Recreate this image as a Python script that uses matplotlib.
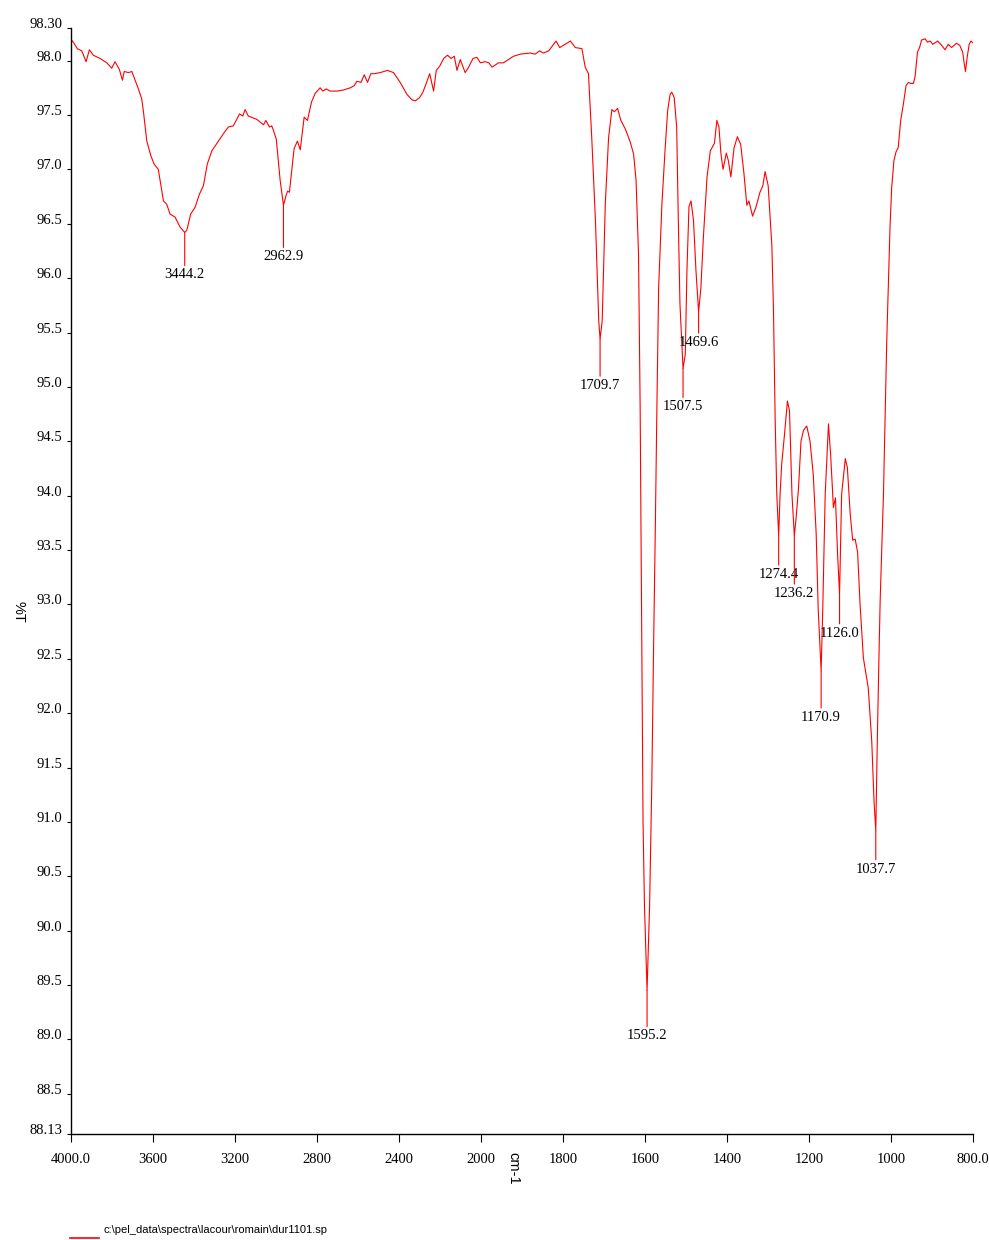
import numpy as np
import matplotlib
matplotlib.use('Agg')
import matplotlib.pyplot as plt

plt.rcParams['font.family'] = ['Liberation Serif', 'DejaVu Serif']

# spectrum (wavenumber cm-1, %T)
wavenumber = [
    4000, 3984, 3968, 3946, 3925, 3909, 3890, 3857, 3824, 3800, 3784, 3763, 3748, 3739,
    3719, 3702, 3686, 3670, 3654, 3646, 3629, 3610, 3594, 3573, 3548, 3532, 3516, 3491,
    3467, 3444.2, 3434, 3415, 3394, 3373, 3353, 3334, 3312, 3280, 3255, 3231, 3207, 3177,
    3161, 3150, 3134, 3093, 3060, 3049, 3031, 3020, 3012, 2998, 2979, 2962.9, 2950, 2943,
    2934, 2922, 2911, 2895, 2881, 2862, 2846, 2826, 2808, 2784, 2771, 2755, 2735, 2702,
    2670, 2637, 2618, 2605, 2585, 2569, 2553, 2537, 2520, 2491, 2456, 2426, 2394, 2361,
    2337, 2320, 2299, 2283, 2267, 2250, 2231, 2218, 2201, 2182, 2163, 2146, 2130, 2117,
    2101, 2077, 2060, 2039, 2020, 2003, 1990, 1981, 1973, 1957, 1945, 1933, 1921, 1904,
    1880, 1868, 1857, 1848, 1835, 1827, 1817, 1808, 1795, 1782, 1770, 1754, 1746, 1738,
    1730, 1721, 1713, 1709.7, 1704.5, 1697, 1689, 1681, 1675, 1667, 1659, 1648, 1636, 1628,
    1622, 1616, 1612, 1608, 1605, 1601.5, 1595.2, 1589, 1583.5, 1579.5, 1575, 1571, 1567,
    1559, 1551, 1545, 1539, 1535, 1529, 1523, 1519, 1515, 1507.5, 1502, 1498, 1493, 1488,
    1482, 1476, 1469.6, 1464, 1458, 1449, 1441, 1431, 1425, 1420, 1415, 1410, 1402, 1397,
    1391, 1383, 1375, 1367, 1359, 1352, 1347, 1338, 1330, 1320, 1313, 1307.5, 1300, 1291,
    1287, 1283, 1279, 1274.4, 1271, 1267, 1261, 1253, 1248, 1242, 1236.2, 1232, 1226, 1220,
    1214, 1206, 1198, 1190, 1183, 1178, 1170.9, 1167, 1161, 1153, 1147.5, 1141, 1136, 1131,
    1126.0, 1121, 1112, 1107, 1100, 1094, 1088, 1082, 1076, 1068, 1056, 1047.5, 1042, 1037.7,
    1034, 1030.5, 1027, 1019, 1011, 1003, 999, 993.5, 988.5, 983, 977, 970.5, 964, 958,
    952.5, 946, 942, 936, 931, 926, 917, 912, 905, 899, 887, 877, 869, 861, 853, 841, 833,
    826, 822, 819, 815, 810, 806, 800,
]
transmittance = [
    98.20, 98.16, 98.11, 98.09, 97.99, 98.10, 98.05, 98.02, 97.98, 97.93, 97.99, 97.92, 97.82, 97.90,
    97.89, 97.90, 97.82, 97.74, 97.65, 97.54, 97.26, 97.13, 97.05, 97.00, 96.71, 96.68, 96.59, 96.56,
    96.47, 96.42, 96.44, 96.59, 96.65, 96.77, 96.85, 97.05, 97.17, 97.26, 97.33, 97.39, 97.40, 97.51,
    97.49, 97.55, 97.49, 97.46, 97.41, 97.45, 97.39, 97.40, 97.36, 97.28, 96.90, 96.67, 96.76, 96.80,
    96.79, 97.00, 97.19, 97.26, 97.18, 97.48, 97.45, 97.62, 97.70, 97.75, 97.72, 97.74, 97.72, 97.72,
    97.73, 97.75, 97.77, 97.81, 97.80, 97.87, 97.80, 97.88, 97.88, 97.89, 97.91, 97.89, 97.80, 97.69,
    97.64, 97.63, 97.66, 97.71, 97.79, 97.88, 97.72, 97.91, 97.95, 98.02, 98.05, 98.02, 98.04, 97.91,
    98.01, 97.89, 97.94, 98.02, 98.03, 97.98, 97.99, 97.98, 97.94, 97.98, 97.98, 98.01, 98.04, 98.06,
    98.07, 98.06, 98.09, 98.07, 98.09, 98.13, 98.18, 98.12, 98.15, 98.18, 98.12, 98.11, 97.94, 97.88,
    97.29, 96.53, 95.61, 95.44, 95.61, 96.68, 97.29, 97.55, 97.53, 97.56, 97.45, 97.37, 97.25, 97.14,
    96.90, 96.22, 94.80, 92.56, 91.00, 90.23, 89.45, 90.23, 91.39, 92.55, 93.72, 94.87, 95.91,
    96.68, 97.20, 97.54, 97.69, 97.71, 97.66, 97.39, 96.53, 95.76, 95.17, 95.30, 96.07, 96.66, 96.71,
    96.53, 96.07, 95.69, 95.91, 96.37, 96.93, 97.17, 97.24, 97.45, 97.39, 97.14, 97.00, 97.15, 97.08,
    96.93, 97.20, 97.30, 97.23, 96.96, 96.67, 96.71, 96.57, 96.65, 96.79, 96.85, 96.98, 96.85, 96.30,
    95.70, 94.71, 94.01, 93.63, 94.01, 94.29, 94.53, 94.87, 94.78, 94.01, 93.63, 93.79, 94.07, 94.50,
    94.60, 94.64, 94.50, 94.19, 93.65, 92.95, 92.39, 92.95, 94.01, 94.66, 94.36, 93.89, 93.98, 93.48,
    93.09, 94.01, 94.34, 94.26, 93.83, 93.59, 93.60, 93.48, 93.00, 92.51, 92.23, 91.74, 91.19, 90.92,
    91.74, 92.42, 93.04, 94.01, 95.42, 96.47, 96.83, 97.08, 97.16, 97.20, 97.45, 97.60, 97.77, 97.80,
    97.79, 97.79, 97.85, 98.08, 98.12, 98.19, 98.20, 98.17, 98.18, 98.15, 98.18, 98.14, 98.10, 98.15, 98.12, 98.16, 98.14,
    98.08, 97.97, 97.90, 98.03, 98.15, 98.18, 98.16,
]

peak_wn = [3444.2, 2962.9, 1709.7, 1595.2, 1507.5, 1469.6, 1274.4, 1236.2, 1170.9, 1126.0, 1037.7]
peak_t = [96.42, 96.67, 95.44, 89.45, 95.17, 95.69, 93.63, 93.63, 92.39, 93.09, 90.92]
peak_drop = [36, 45, 40, 39, 32, 24, 32, 51, 40, 32, 32]   # pixels of the marker line

x_ticks = [4000, 3600, 3200, 2800, 2400, 2000, 1800, 1600, 1400, 1200, 1000, 800]
x_labels = ['4000.0', '3600', '3200', '2800', '2400', '2000', '1800', '1600', '1400', '1200', '1000', '800.0']
y_ticks = [88.13] + list(np.arange(88.5, 98.01, 0.5)) + [98.30]
y_labels = ['88.13'] + ['%.1f' % v for v in np.arange(88.5, 98.01, 0.5)] + ['98.30']

file_name = r'c:\pel_data\spectra\lacour\romain\dur1101.sp'


# axis is expanded x2 below 2000 cm-1
def fwd(x):
    x = np.asarray(x, dtype=float)
    return np.where(x < 2000, x - 800, 1200 + (x - 2000) / 2)


def inv(p):
    p = np.asarray(p, dtype=float)
    return np.where(p < 1200, p + 800, 2000 + (p - 1200) * 2)


fig = plt.figure(figsize=(9.89, 12.40), dpi=100)
ax = fig.add_axes([0.07149, 0.08548, 0.91264, 0.89194])
ax.set_xscale('function', functions=(fwd, inv))
ax.plot(wavenumber, transmittance, color='red', lw=0.8)
ax.set_xlim(4000, 800)
ax.set_ylim(88.13, 98.30)

for s in ['top', 'right']:
    ax.spines[s].set_visible(False)
for s in ['left', 'bottom']:
    ax.spines[s].set_linewidth(1.0)

ax.set_xticks(x_ticks)
ax.set_xticklabels(x_labels)
ax.xaxis.set_minor_locator(matplotlib.ticker.NullLocator())
ax.set_yticks(y_ticks)
ax.set_yticklabels(y_labels)
ax.tick_params(axis='x', length=6, width=0.8, pad=8, labelsize=10.5)
ax.tick_params(axis='y', length=3, width=0.8, pad=3, labelsize=10.5)
for lab in ax.get_yticklabels():
    lab.set_va('baseline')

for wn, t, d in zip(peak_wn, peak_t, peak_drop):
    ax.annotate('%.1f' % wn, xy=(wn, t), xytext=(0, -d * 0.72), textcoords='offset points',
                ha='center', va='top', fontsize=10.5,
                arrowprops=dict(arrowstyle='-', color='red', lw=0.8, shrinkA=0, shrinkB=0))

fig.text(513 / 989, 1 - 1168 / 1240, 'cm-1', rotation=270, ha='center', va='center',
         fontsize=10.5, family=['Liberation Sans', 'DejaVu Sans'])
fig.text(18 / 989, 1 - 612 / 1240, '%T', rotation=270, ha='center', va='center',
         fontsize=10.5, family=['Liberation Sans', 'DejaVu Sans'])

fig.add_artist(plt.Line2D([70 / 989, 99 / 989], [1 - 1238 / 1240] * 2, color='red', lw=1.2))
fig.text(103 / 989, 1 - 1230 / 1240, file_name, ha='left', va='center', fontsize=8,
         family=['Liberation Sans', 'DejaVu Sans'])

fig.savefig('out.png', dpi=100)
